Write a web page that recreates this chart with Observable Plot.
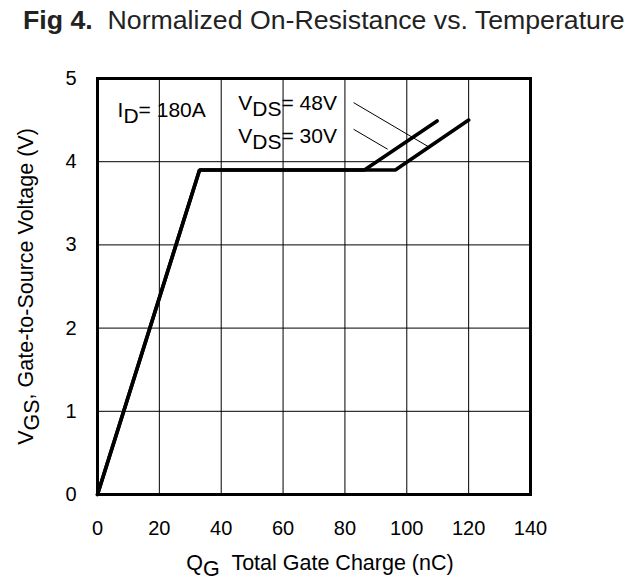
<!DOCTYPE html>
<html><head><meta charset="utf-8">
<script src="https://cdn.jsdelivr.net/npm/d3@7"></script>
<script src="https://cdn.jsdelivr.net/npm/@observablehq/plot@0.6"></script>
<style>
body{margin:0;background:#fff;}
#title{height:40px;line-height:40px;font-family:"Liberation Sans",Arial,sans-serif;font-size:26.7px;color:#222;padding-left:23px;white-space:nowrap;}
</style></head><body>
<div id="title"><b>Fig 4.</b>&nbsp; Normalized On-Resistance vs. Temperature</div>
<div id="chart"></div>
<script>
const xTicks = [0, 20, 40, 60, 80, 100, 120, 140];
const yTicks = [0, 1, 2, 3, 4, 5];
const gridXTicks = [20, 40, 60, 80, 100, 120];
const gridYTicks = [1, 2, 3, 4];
const seriesNames = ["VDS = 48V", "VDS = 30V"];
const qg48 = [0, 33, 86.3, 109.8];
const vgs48 = [0, 3.9, 3.9, 4.49];
const qg30 = [0, 33, 96.3, 120];
const vgs30 = [0, 3.9, 3.9, 4.5];
const labelText = ["I_{D}= 180A", "V_{DS}= 48V", "V_{DS}= 30V"];
const labelX = [6.5, 45.5, 45.5];
const labelY = [4.54, 4.62, 4.23];
const leaderX1 = [82.8, 82.8], leaderY1 = [4.71, 4.39];
const leaderX2 = [107, 93.8], leaderY2 = [4.18, 4.15];
const xLabel = "Q_{G}  Total Gate Charge (nC)";
const yLabel = "V_{GS}, Gate-to-Source Voltage (V)";

const rows = [
  ...qg48.map((q, i) => ({series: seriesNames[0], qg: q, vgs: vgs48[i]})),
  ...qg30.map((q, i) => ({series: seriesNames[1], qg: q, vgs: vgs30[i]}))
];
const labels = labelText.map((t, i) => ({t, x: labelX[i], y: labelY[i]}));
const leaders = leaderX1.map((x1, i) => ({x1, y1: leaderY1[i], x2: leaderX2[i], y2: leaderY2[i]}));

const chart = Plot.plot({
  width: 644,
  height: 539,
  marginTop: 38,
  marginBottom: 85,
  marginLeft: 97,
  marginRight: 114,
  style: {fontFamily: "'Liberation Sans', Arial, sans-serif", fontSize: "20px", color: "black", background: "white"},
  x: {domain: [0, 140]},
  y: {domain: [0, 5]},
  marks: [
    Plot.gridX(gridXTicks, {stroke: "black", strokeOpacity: 1, strokeWidth: 1}),
    Plot.gridY(gridYTicks, {stroke: "black", strokeOpacity: 1, strokeWidth: 1}),
    Plot.axisX(xTicks, {tickSize: 0, tickPadding: 26, label: null, fontSize: 20, tickFormat: d => String(d)}),
    Plot.axisY(yTicks, {tickSize: 0, tickPadding: 21, label: null, fontSize: 20, tickFormat: d => String(d)}),
    Plot.line(rows, {x: "qg", y: "vgs", z: "series", stroke: "black", strokeWidth: 3.6, strokeLinejoin: "miter"}),
    Plot.link(leaders, {x1: "x1", y1: "y1", x2: "x2", y2: "y2", stroke: "black", strokeWidth: 1}),
    Plot.text(labels, {x: "x", y: "y", text: "t", textAnchor: "start", lineAnchor: "bottom", fontSize: 21, fill: "black"}),
    Plot.text([xLabel], {frameAnchor: "bottom", textAnchor: "middle", dx: 6, dy: 75, lineAnchor: "bottom", fontSize: 21.5, fill: "black"}),
    Plot.text([yLabel], {frameAnchor: "left", textAnchor: "middle", dx: -65, rotate: -90, lineAnchor: "bottom", fontSize: 21.5, fill: "black"}),
    Plot.frame({stroke: "black", strokeWidth: 3})
  ]
});

// render subscripts written as _{...}
d3.select(chart).selectAll("text").each(function() {
  const el = this;
  const s = el.textContent;
  if (!s.includes("_{")) return;
  const parts = s.split(/_\{([^}]*)\}/);
  while (el.firstChild) el.removeChild(el.firstChild);
  const sel = d3.select(el);
  parts.forEach((p, i) => {
    if (i % 2 === 1) {
      sel.append("tspan").attr("dy", "6").text(p);
    } else if (p.length) {
      const t = sel.append("tspan").text(p);
      if (i > 0) t.attr("dy", "-6");
    }
  });
});

document.getElementById("chart").appendChild(chart);
</script>
</body></html>
